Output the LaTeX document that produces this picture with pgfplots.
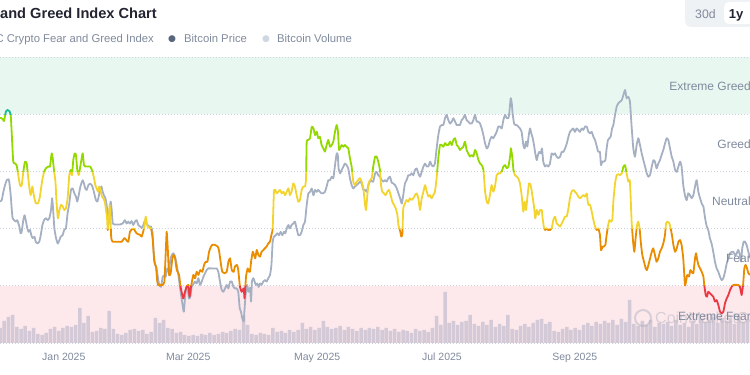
\documentclass[border=0pt]{standalone}
\usepackage{pgfplots}
\pgfplotsset{compat=1.18}
\usepackage{pgfplotstable}
\usepackage{fontspec}
\setmainfont{Liberation Sans}
\newfontfamily\dejavu{DejaVu Sans}

\definecolor{txtgray}{RGB}{128,138,157}
\definecolor{titlec}{RGB}{34,37,49}
\definecolor{pricec}{RGB}{166,176,195}
\definecolor{gridc}{RGB}{205,211,222}
\definecolor{mint}{RGB}{232,248,241}
\definecolor{pinkb}{RGB}{253,233,236}
\definecolor{volc}{RGB}{212,201,214}
\definecolor{egreed}{RGB}{24,190,150}
\definecolor{greed}{RGB}{147,217,0}
\definecolor{neutral}{RGB}{243,212,47}
\definecolor{fear}{RGB}{234,140,0}
\definecolor{efear}{RGB}{234,57,67}
\definecolor{btnbg}{RGB}{239,242,245}
\definecolor{dot1}{RGB}{88,102,126}
\definecolor{dot2}{RGB}{207,214,228}
\definecolor{wm}{RGB}{170,176,190}

% Fear & Greed index (d = days since 1 Jan 2025)
\pgfplotstableread{
d v
-20.0 78.8
-18.7 78.3
-18.1 77.6
-17.2 80.9
-16.5 81.5
-15.6 81.1
-14.9 79.7
-14.3 71.6
-13.7 63.4
-12.9 62.8
-12.1 62.2
-11.3 58.7
-10.5 55.2
-9.7 55.0
-8.9 59.9
-8.1 63.4
-7.3 62.8
-6.7 58.7
-6.0 54.1
-5.4 51.7
-4.6 54.7
-3.8 51.2
-2.9 48.8
-1.9 48.8
-1.0 51.2
0.0 56.4
1.0 59.9
1.9 61.1
3.0 61.7
3.8 61.7
4.6 66.3
5.1 64.6
5.7 60.5
6.4 56.4
7.0 48.3
7.6 43.6
8.3 46.5
9.1 48.3
9.9 47.7
10.6 46.5
11.4 47.1
12.2 50.6
13.0 58.7
13.7 60.5
14.3 58.7
14.9 64.0
15.6 66.3
16.2 65.7
16.8 60.5
17.5 58.7
18.1 61.1
18.9 64.6
19.4 66.3
20.0 62.2
20.6 61.7
21.6 61.7
22.9 61.7
23.8 60.5
24.8 57.6
25.4 55.2
26.0 54.1
26.7 52.9
27.3 54.7
28.0 52.9
28.6 51.2
29.2 50.6
29.9 49.4
30.5 46.5
31.0 43.6
31.3 39.5
31.8 42.4
32.2 48.3
32.6 43.6
33.0 36.6
33.7 35.4
34.8 35.4
36.4 35.4
38.0 35.4
39.1 36.6
39.5 36.6
41.1 35.4
41.9 38.9
43.5 40.1
45.1 38.3
46.7 37.8
47.5 37.2
48.8 40.7
49.4 44.2
50.3 40.7
51.9 40.1
52.7 36.6
53.5 28.4
54.3 26.7
54.9 21.6
55.4 20.3
57.3 20.3
58.3 21.4
58.9 30.8
59.4 38.9
60.0 31.9
60.5 23.8
61.3 24.4
62.1 29.6
62.7 30.8
63.4 29.6
64.2 25.5
65.3 23.8
65.9 20.3
66.5 17.9
67.3 15.6
68.1 17.9
68.9 19.7
69.7 20.3
70.3 16.2
71.0 19.7
72.1 23.8
72.9 22.6
73.7 24.9
74.5 23.8
75.4 25.5
76.4 24.9
77.2 27.3
78.0 28.4
78.8 28.4
79.6 31.9
80.5 33.7
81.1 34.3
82.4 34.3
83.7 33.7
84.3 32.5
85.3 27.3
85.9 24.9
86.9 24.4
88.0 24.9
88.8 28.4
89.6 29.6
90.4 25.5
91.3 24.9
91.9 26.7
92.9 27.3
93.5 25.5
94.3 19.7
95.1 17.9
96.1 19.1
96.5 15.6
97.2 23.2
98.0 26.1
98.6 24.9
99.1 24.9
99.6 28.4
100.4 31.9
101.0 30.8
101.6 29.6
102.3 32.5
103.1 30.8
103.9 30.2
104.6 31.9
105.4 32.5
106.2 33.1
107.0 33.7
107.8 34.8
108.6 35.4
109.3 37.8
109.9 40.1
110.5 52.9
111.2 53.5
111.8 52.3
112.6 52.9
113.4 53.5
114.2 52.3
115.0 52.9
115.8 51.7
116.6 52.9
117.4 54.1
118.1 51.7
118.9 52.9
119.7 55.8
120.5 54.7
121.3 51.7
122.1 49.4
122.9 50.0
123.7 53.5
124.5 54.7
125.3 54.7
125.8 57.6
126.1 70.4
126.9 71.0
127.7 71.6
128.5 75.6
129.3 75.1
130.1 72.7
130.9 73.9
131.6 71.6
132.4 72.1
133.2 69.2
134.0 68.1
134.8 66.9
135.6 69.2
136.4 71.0
137.2 68.6
138.0 69.2
138.8 70.4
139.6 73.9
140.4 76.2
141.0 73.9
141.5 67.5
142.0 68.1
142.8 69.2
143.6 68.6
144.3 69.2
145.1 68.6
145.9 68.1
146.7 64.6
147.5 61.7
148.3 56.4
149.1 55.2
149.9 56.4
150.7 57.0
151.5 57.6
152.3 56.4
153.1 54.1
153.9 48.3
154.4 46.5
155.0 51.7
155.6 55.8
156.3 57.0
157.1 57.6
157.8 61.7
158.7 65.2
159.4 65.2
160.2 63.4
161.0 60.5
161.5 55.2
162.1 52.9
162.9 52.3
163.7 51.7
164.5 52.9
165.3 53.5
166.1 51.7
166.9 49.4
167.7 48.3
168.5 47.1
169.3 44.8
169.8 41.3
170.2 40.1
170.7 38.9
171.2 37.2
171.7 38.3
172.1 47.1
172.9 48.8
173.7 50.0
174.5 49.4
175.3 50.6
176.1 50.0
176.9 50.6
177.7 51.7
178.5 52.3
179.3 50.6
180.1 46.5
180.9 50.6
181.7 52.9
182.5 55.2
183.3 52.9
184.1 51.2
184.9 51.7
185.6 50.6
186.4 51.7
187.2 52.9
188.0 57.6
188.8 64.6
189.6 69.2
190.4 69.2
191.2 68.6
192.0 69.9
192.8 69.2
193.6 69.2
194.4 70.4
195.2 69.2
196.0 71.0
196.8 71.6
197.6 69.2
198.4 68.6
199.1 67.5
199.9 68.1
200.7 68.6
201.5 70.4
202.3 67.5
203.1 66.3
203.9 65.2
204.7 65.7
205.5 65.2
206.3 67.5
207.1 66.3
207.9 64.0
208.7 62.8
209.5 62.2
210.3 60.5
211.1 52.9
211.9 49.4
212.6 48.8
213.4 51.7
214.2 55.2
215.0 52.9
215.8 54.7
216.6 58.7
217.4 59.3
218.2 59.3
219.0 59.9
219.8 61.7
220.6 62.2
221.4 61.1
222.2 61.7
223.0 65.2
223.4 68.1
224.1 64.6
224.6 60.5
225.3 58.7
226.1 58.2
226.9 57.6
227.7 55.8
228.5 51.7
229.3 45.9
229.9 49.4
230.6 46.5
231.2 50.6
232.0 55.8
232.8 55.2
233.6 51.7
234.4 47.7
235.0 43.6
235.7 46.5
236.5 44.8
237.3 46.5
238.1 46.5
238.5 43.6
239.2 40.1
239.8 39.5
240.4 40.1
241.2 39.5
242.0 39.5
242.8 40.1
243.6 43.0
244.4 44.2
245.2 41.8
246.0 41.3
246.8 40.7
247.6 41.8
248.4 43.0
249.2 44.2
250.0 44.2
250.8 47.1
251.5 50.6
252.3 52.9
253.1 53.5
253.9 52.9
254.7 52.3
255.5 51.2
256.3 50.6
257.1 51.2
257.9 51.7
258.7 51.2
259.5 52.3
260.0 49.4
260.4 48.3
261.1 48.3
261.9 45.9
262.7 43.0
263.5 40.7
264.3 39.5
265.0 40.1
265.8 37.8
266.3 32.5
267.1 33.7
267.7 33.7
268.4 34.3
269.0 37.8
269.6 40.7
270.3 43.0
271.1 42.4
271.7 43.0
272.2 49.4
273.0 55.8
273.8 58.7
274.6 59.0
275.4 58.7
276.2 59.3
277.0 61.7
277.8 62.2
278.2 60.5
278.7 58.7
279.3 56.4
280.0 57.0
280.4 51.7
280.9 42.4
281.6 35.4
282.2 31.9
282.8 36.6
283.5 41.3
284.1 42.4
284.7 40.1
285.4 34.3
286.0 30.8
286.8 28.4
287.6 26.1
288.2 25.5
288.9 27.3
289.7 29.6
290.5 31.9
291.2 33.1
292.0 30.8
292.8 28.4
293.6 29.6
294.4 31.9
295.2 33.1
296.0 34.8
296.8 37.8
297.3 41.8
298.1 42.4
298.9 41.8
299.5 40.1
300.1 37.8
300.8 34.3
301.6 31.9
302.4 33.1
303.2 35.4
304.0 36.0
304.7 34.3
305.5 29.6
306.3 20.3
306.8 21.4
307.4 23.8
308.2 23.2
308.9 25.5
309.5 24.9
310.3 24.4
311.1 29.6
311.6 31.4
312.0 29.6
312.7 27.3
313.5 26.1
314.3 24.9
315.1 23.2
315.5 20.3
316.2 16.8
316.8 16.2
317.4 17.9
318.2 17.4
319.0 16.8
319.8 16.2
320.6 14.5
321.4 15.0
322.2 13.3
323.0 11.0
323.8 10.4
324.6 11.0
325.4 13.9
326.2 15.6
327.0 16.8
327.8 18.5
328.6 19.7
329.4 20.3
331.7 20.3
332.5 19.7
333.3 16.8
334.0 20.3
334.6 26.1
335.2 27.3
335.9 26.1
336.5 24.4
337.3 23.8
}\fngdata

% Bitcoin price (thousand USD)
\pgfplotstableread{
d p
-20.0 101.2
-19.2 101.5
-18.4 103.2
-17.6 104.6
-16.8 105.6
-16.0 105.8
-15.6 105.3
-14.9 102.5
-14.4 99.5
-14.0 97.8
-13.3 97.4
-12.4 97.1
-11.8 97.4
-10.8 96.1
-10.2 94.7
-9.7 95.0
-8.9 97.4
-8.3 98.4
-7.6 97.1
-7.0 95.7
-6.4 95.0
-5.7 95.4
-5.1 94.3
-4.4 93.7
-3.6 94.0
-3.0 93.0
-2.2 92.6
-1.3 93.0
-0.6 94.3
0.2 96.4
1.0 97.4
1.9 97.8
2.7 97.4
3.5 97.8
4.3 99.5
4.8 101.9
5.2 100.2
5.9 95.7
6.7 93.7
7.5 92.6
8.3 93.3
8.9 94.0
9.8 94.3
10.6 95.4
11.4 95.7
12.2 98.8
13.0 100.8
13.8 103.6
14.6 103.9
15.4 102.9
16.2 102.2
16.8 101.2
17.5 102.5
18.1 103.9
18.7 104.9
19.4 105.6
20.0 104.9
20.6 103.9
21.3 103.6
22.1 104.6
22.9 104.9
23.7 104.6
24.5 103.6
25.1 102.5
25.7 101.5
26.4 101.2
27.0 102.2
27.6 103.6
28.3 104.3
28.9 103.2
29.5 102.5
30.2 101.9
30.8 100.5
31.4 98.1
32.1 99.1
32.7 101.2
33.2 99.5
33.7 96.7
34.5 96.5
35.6 96.5
37.2 96.5
38.4 96.7
39.5 97.4
40.3 96.7
41.1 97.1
41.9 96.7
42.7 97.2
43.5 96.4
44.3 97.1
45.1 97.4
45.9 96.4
46.7 96.1
47.5 95.8
48.3 96.4
49.1 97.4
49.7 96.7
50.3 96.4
51.0 96.1
51.9 96.1
52.6 95.0
53.2 90.9
53.8 88.5
54.6 87.5
55.4 85.1
55.9 84.1
56.7 83.7
57.5 85.8
58.3 86.1
58.9 85.8
59.7 87.5
60.5 86.8
61.1 89.2
61.8 90.2
62.6 90.6
63.4 89.9
64.2 88.2
65.0 86.1
65.7 83.7
66.5 81.3
67.2 79.3
67.6 78.6
68.1 81.3
68.8 83.7
69.4 83.4
70.0 81.3
70.7 81.7
71.3 83.7
71.9 84.1
72.9 84.8
73.7 84.4
74.5 85.5
75.3 84.1
76.1 84.8
76.9 85.8
77.7 86.5
78.5 87.2
79.2 87.5
80.8 87.5
82.4 87.5
83.2 87.5
84.0 86.8
84.8 84.8
85.6 83.1
86.4 82.7
87.2 83.4
88.0 84.1
88.8 83.4
89.6 84.8
90.4 84.8
91.2 83.7
91.9 83.4
92.7 83.4
93.5 82.7
94.2 79.3
94.8 78.6
95.4 77.3
96.1 76.6
96.4 78.6
97.0 82.0
97.7 84.1
98.3 82.7
99.1 83.5
99.6 80.7
100.0 84.8
100.7 85.5
101.3 84.8
101.9 84.1
102.6 84.4
103.2 83.7
103.9 84.4
104.6 84.1
105.4 84.8
106.2 85.1
107.0 84.8
107.8 85.5
108.6 86.1
109.3 88.2
109.9 93.0
110.5 94.0
111.3 94.3
112.1 94.7
112.9 94.3
113.7 95.0
114.5 94.3
115.3 95.0
115.9 94.7
116.6 95.7
117.4 96.4
118.1 95.7
118.9 96.4
119.7 96.7
120.5 97.1
121.3 95.7
122.1 94.3
122.9 94.3
123.7 95.0
124.5 96.4
125.3 97.1
126.1 100.5
126.9 102.9
127.7 103.2
128.5 103.9
129.3 102.5
130.1 103.6
130.9 103.2
131.6 103.6
132.4 103.2
133.2 102.9
134.0 102.9
134.8 103.2
135.6 104.3
136.4 105.6
137.2 105.6
138.0 106.3
138.8 106.0
139.6 108.7
140.4 111.1
140.9 110.8
141.3 108.0
142.0 107.0
142.8 107.7
143.6 108.4
144.3 109.0
145.1 108.7
145.9 108.0
146.7 106.0
147.5 104.6
148.3 103.9
149.1 104.3
149.9 104.6
150.7 104.9
151.5 105.3
152.3 104.9
153.1 103.6
153.9 103.6
154.7 103.2
155.5 104.6
156.3 105.4
157.1 105.4
157.8 105.3
158.7 107.0
159.4 107.3
160.2 106.6
161.0 106.3
161.8 105.6
162.6 105.3
163.4 105.6
164.2 105.3
165.0 106.0
165.8 106.3
166.6 105.1
167.4 104.9
168.2 104.6
169.0 103.9
169.8 102.9
170.6 101.9
171.4 100.8
172.1 102.5
172.9 104.9
173.7 105.6
174.5 106.6
175.3 106.6
176.1 107.0
176.9 106.6
177.7 107.7
178.5 108.0
179.3 107.0
180.1 106.3
180.9 107.3
181.7 108.4
182.5 109.0
183.3 108.4
184.1 108.4
184.9 109.4
185.6 108.7
186.4 108.4
187.2 109.0
188.0 112.1
188.8 114.8
189.6 116.6
190.4 116.9
191.2 116.9
192.0 118.3
192.8 119.0
193.6 117.9
194.4 117.2
195.2 117.6
196.0 118.3
196.8 117.6
197.6 116.9
198.4 116.9
199.1 116.9
199.9 117.9
200.7 118.3
201.5 119.0
202.3 117.9
203.1 117.6
203.9 117.2
204.7 117.2
205.5 117.9
206.3 119.0
207.1 117.6
207.9 117.6
208.7 117.2
209.5 116.2
210.3 114.8
211.1 113.1
211.9 112.1
212.6 112.5
213.4 113.8
214.2 114.5
215.0 114.2
215.8 114.8
216.6 115.5
217.4 116.6
218.2 116.6
219.0 116.2
219.8 117.9
220.6 119.0
221.4 118.3
222.2 118.3
222.6 119.3
223.3 122.4
223.8 121.4
224.2 119.3
224.9 117.2
225.5 116.9
226.1 116.9
226.9 116.6
227.7 116.2
228.5 115.5
229.3 112.8
229.9 112.1
230.6 113.5
231.2 112.5
231.9 114.8
232.5 116.2
233.1 115.2
233.8 114.2
234.4 112.8
235.0 111.1
235.7 109.7
236.3 110.8
236.9 111.4
237.6 111.1
238.2 112.1
238.8 109.4
239.6 108.4
240.4 108.7
241.2 108.4
242.0 109.0
242.8 111.1
243.6 110.8
244.4 111.1
245.2 110.4
246.0 110.1
246.8 110.4
247.6 111.4
248.4 111.4
249.2 112.1
250.0 113.1
250.8 114.5
251.5 115.5
252.3 115.9
253.1 116.2
253.9 115.5
254.7 116.2
255.5 115.9
256.3 115.5
257.1 116.2
257.9 115.9
258.7 116.6
259.5 116.6
260.3 115.5
261.1 115.2
261.9 115.5
262.7 114.5
263.5 113.8
264.3 112.5
265.0 111.4
265.8 111.4
266.3 108.7
266.9 109.4
267.7 109.4
268.4 109.7
269.0 112.1
269.6 113.8
270.3 114.2
270.9 114.5
271.6 116.2
272.2 116.9
273.0 119.0
273.8 120.7
274.6 121.4
275.4 121.7
276.2 122.0
277.0 123.1
277.8 124.1
278.5 122.4
279.3 122.7
280.1 121.7
280.9 116.6
281.7 112.1
282.5 110.4
283.3 112.8
284.1 114.2
284.9 112.8
285.7 111.1
286.5 109.7
287.3 108.4
288.1 107.0
288.9 106.3
289.7 106.7
290.5 108.4
291.3 109.7
292.0 109.4
292.8 108.0
293.6 109.0
294.4 109.7
295.2 110.8
296.0 111.8
296.8 113.1
297.6 114.2
298.4 113.8
299.2 112.1
300.0 110.4
300.8 109.4
301.6 107.7
302.4 107.3
303.2 108.4
304.0 109.4
304.7 108.4
305.5 104.6
306.3 102.5
307.1 101.5
307.9 102.9
308.7 102.5
309.5 101.9
310.3 102.5
311.1 104.3
311.9 105.6
312.7 103.2
313.5 101.9
314.3 100.8
315.1 100.2
315.9 97.8
316.7 96.1
317.4 95.4
318.2 93.7
319.0 92.6
319.8 90.9
320.6 88.9
321.4 87.5
322.2 86.8
323.0 85.8
323.8 85.1
324.6 85.5
325.4 86.8
326.2 88.5
327.0 89.6
327.8 90.6
328.6 90.9
329.4 90.9
330.2 90.2
331.0 90.6
331.7 91.3
332.5 90.2
333.0 88.9
333.6 91.6
334.3 93.0
334.9 93.0
335.7 92.3
336.5 90.9
337.3 89.6
}\pricedata

% Bitcoin volume (billion USD), one bar per two days
\pgfplotstableread{
d vol
-20 45
-18 66
-16 78
-14 84
-12 48
-10 42
-8 51
-6 36
-4 45
-2 27
0 24
2 30
4 42
6 48
8 36
10 45
12 51
14 48
16 54
18 105
20 60
22 81
24 33
26 36
28 45
30 42
32 96
34 42
36 27
38 24
40 30
42 39
44 42
46 36
48 39
50 27
52 33
54 75
56 60
58 69
60 45
62 42
64 30
66 33
68 24
70 21
72 24
74 21
76 27
78 24
80 30
82 24
84 27
86 33
88 30
90 36
92 42
94 39
96 81
98 54
100 27
102 24
104 30
106 27
108 24
110 45
112 33
114 36
116 30
118 39
120 33
122 39
124 60
126 42
128 48
130 39
132 45
134 66
136 48
138 42
140 45
142 51
144 39
146 48
148 42
150 36
152 45
154 39
156 45
158 42
160 48
162 39
164 45
166 36
168 42
170 33
172 39
174 36
176 30
178 42
180 36
182 39
184 33
186 45
188 81
190 54
192 153
194 60
196 66
198 54
200 63
202 66
204 84
206 57
208 51
210 63
212 54
214 69
216 48
218 57
220 51
222 84
224 42
226 39
228 51
230 57
232 48
234 60
236 69
238 72
240 57
242 63
244 36
246 33
248 42
250 48
252 39
254 45
256 39
258 54
260 60
262 51
264 63
266 57
268 66
270 60
272 69
274 54
276 72
278 63
280 129
282 57
284 51
286 66
288 54
290 69
292 48
294 60
296 57
298 63
300 51
302 69
304 54
306 60
308 48
310 66
312 57
314 72
316 63
318 69
320 78
322 60
324 75
326 66
328 72
330 57
332 81
334 63
336 69
}\voldata

\pgfplotsset{
  base/.style={scale only axis, width=750pt, xmin=-20.01, xmax=337.3, anchor=south west},
  full/.style={base, height=286pt, at={(0pt,32pt)}},
  band/.style={base, hide axis, height=57.2pt},
  fngline/.style={line width=1.8pt, smooth, tension=0.3, line join=round},
}

\begin{document}
\begin{tikzpicture}[x=1pt,y=1pt, trim left=0pt, trim right=750pt]
\path (0,0) rectangle (750,375);
\clip (0,0) rectangle (750,375);

% header: title, legend, range buttons
\node[anchor=base east, inner sep=0pt, font=\fontsize{14.6}{17}\selectfont\bfseries, text=titlec] at (157,356.7) {Fear and Greed Index Chart};
\node[anchor=base east, inner sep=0pt, font=\fontsize{11.3}{13}\selectfont, text=txtgray] at (154,332.3) {CMC Crypto Fear and Greed Index};
\node[anchor=center, inner sep=0pt, font=\dejavu\fontsize{9}{10}\selectfont, text=dot1] at (172,336.2) {●};
\node[anchor=base west, inner sep=0pt, font=\fontsize{11.3}{13}\selectfont, text=txtgray] at (184,332.3) {Bitcoin Price};
\node[anchor=center, inner sep=0pt, font=\dejavu\fontsize{9}{10}\selectfont, text=dot2] at (266,336.2) {●};
\node[anchor=base west, inner sep=0pt, font=\fontsize{11.3}{13}\selectfont, text=txtgray] at (277,332.3) {Bitcoin Volume};
\fill[btnbg, rounded corners=6pt] (685,348) rectangle (770,375);
\fill[btnbg] (685,365) rectangle (770,375);
\fill[white, rounded corners=5pt] (724,351) rectangle (770,373);
\node[anchor=base, inner sep=0pt, font=\fontsize{12.3}{14}\selectfont, text=txtgray] at (705.5,356.7) {30d};
\node[anchor=base, inner sep=0pt, font=\fontsize{13}{15}\selectfont\bfseries, text=titlec] at (736,356.7) {1y};

% zone backgrounds
\begin{axis}[full, hide axis, ymin=0, ymax=100]
  \fill[mint] (rel axis cs:0,0.8) rectangle (rel axis cs:1,1);
  \fill[pinkb] (rel axis cs:0,0) rectangle (rel axis cs:1,0.2);
\end{axis}

% grid and date labels
\begin{axis}[full, ymin=0, ymax=100,
  axis line style={draw=none}, major tick length=0pt, tick style={draw=none},
  ytick={0,20,40,60,80,100}, yticklabels={},
  ymajorgrids, grid style={draw=gridc, line width=0.9pt, dash pattern=on 0.9pt off 2.1pt},
  xtick={0,59,120,181,243},
  xticklabels={Jan 2025,Mar 2025,May 2025,Jul 2025,Sep 2025},
  xticklabel style={anchor=base west, inner sep=0pt, yshift=-18pt,
    font=\fontsize{10.5}{12}\selectfont, text=txtgray}]
  \addplot[draw=none] coordinates {(0,50)};
\end{axis}

% volume
\begin{axis}[full, hide axis, ymin=0, ymax=858]
  \addplot[ybar, bar width=3.5pt, fill=volc, draw=none] table[x=d,y=vol] {\voldata};
\end{axis}

% watermark
\draw[wm, opacity=0.45, line width=2pt] (643,57) circle (8);
\node[anchor=base west, inner sep=0pt, font=\fontsize{16}{18}\selectfont, text=wm, opacity=0.45] at (655,51.5) {CoinMarketCap};

% bitcoin price
\begin{axis}[full, hide axis, ymin=72.2, ymax=130.86]
  \addplot[pricec, line width=1.8pt, smooth, tension=0.3, line join=round] table[x=d,y=p] {\pricedata};
\end{axis}

% fear & greed line, coloured by zone
\begin{axis}[band, at={(0pt,32pt)}, ymin=0, ymax=20]
  \addplot[efear, fngline] table[x=d,y=v] {\fngdata};
\end{axis}
\begin{axis}[band, at={(0pt,89.2pt)}, ymin=20, ymax=40]
  \addplot[fear, fngline] table[x=d,y=v] {\fngdata};
\end{axis}
\begin{axis}[band, at={(0pt,146.4pt)}, ymin=40, ymax=60]
  \addplot[neutral, fngline] table[x=d,y=v] {\fngdata};
\end{axis}
\begin{axis}[band, at={(0pt,203.6pt)}, ymin=60, ymax=80]
  \addplot[greed, fngline] table[x=d,y=v] {\fngdata};
\end{axis}
\begin{axis}[band, at={(0pt,260.8pt)}, ymin=80, ymax=100]
  \addplot[egreed, fngline] table[x=d,y=v] {\fngdata};
\end{axis}

% zone labels
\begin{scope}[every node/.style={anchor=base east, inner sep=0pt, font=\fontsize{12}{14}\selectfont, text=txtgray}]
\node at (751,284.5) {Extreme Greed};
\node at (751,226.8) {Greed};
\node at (751,169.0) {Neutral};
\node at (751,112.3) {Fear};
\node at (751,54.0) {Extreme Fear};
\end{scope}
\end{tikzpicture}
\end{document}
